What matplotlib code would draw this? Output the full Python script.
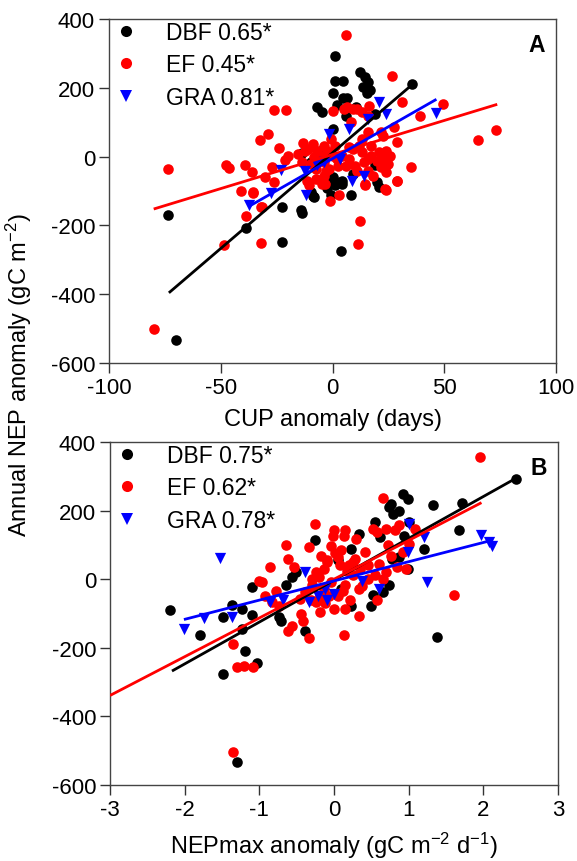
import matplotlib
matplotlib.use('Agg')
import matplotlib.pyplot as plt
import numpy as np
from matplotlib.lines import Line2D

plt.rcParams['font.family'] = ['Liberation Sans', 'DejaVu Sans']
plt.rcParams['mathtext.fontset'] = 'custom'
plt.rcParams['mathtext.rm'] = 'Liberation Sans'
plt.rcParams['mathtext.default'] = 'regular'
plt.rcParams['axes.unicode_minus'] = False

# ---------------- Panel A data (CUP anomaly, days vs annual NEP anomaly) ----------------
a_dbf_x = [-73.6, -69.8, -38.8, -22.4, -22.4, -14.2, -13.5, 1.0, 1.3, 4.6, 0.2, 4.8, 6.7, 2.1,
           10.4, 12.5, 14.7, 15.8, 13.8, 16.6, 15.5, -6.9, -4.8, 5.9, 0.2, 19.1, 35.6, 20.7,
           19.1, 8.4, 4.0, 0.2, 1.0, -1.5, 4.3, -9.7, -8.1, -13.8, -9.7, -5.6, 4.3, -0.7,
           9.2, 19.9, -8.6, -2.5, 3.6, 0.4]
a_dbf_y = [-170, -532, -208, -147, -247, -154, -165, 291, 221, 221, 185, 171, 170, 150,
           143, 247, 231, 216, 202, 195, 185, 143, 129, 117, 80, 124, 211, -87,
           -23, -113, -275, -65, -84, -55, -70, -104, -118, 11, -16, 17, -79, -113,
           -50, -75, -114, -90, -75, -60]

a_ef_x = [5.9, 26.5, 31.0, 39.3, 49.5, 64.9, 73.1, -26.2, -20.7, -32.3, -29.0, -24.0, -47.6,
          -46.4, -39.0, -36.2, -41.0, -35.6, -30.3, -27.0, -26.2, -38.8, -31.9, -31.9, -48.7,
          -73.4, -80.0, -21.2, -19.8, -13.3, -10.9, -9.7, -7.2, -11.4, -4.8, -1.0, -4.0, -5.6,
          -4.0, -0.7, 0.2, 5.1, 6.7, 10.9, 16.3, 13.3, 8.4, 13.3, 15.8, 17.4, 21.6, 22.4, 27.3,
          28.9, 20.7, 23.2, 24.9, 24.0, 21.6, 18.3, 15.8, 13.3, 9.2, 7.6, 10.0, 4.3, 29.0, 35.2,
          24.0, 14.5, 12.2, 11.2, 3.0, -15.5, -13.8, -8.1, -4.0, -1.5, 1.0, 2.6, -1.5, 5.9, 17.4,
          -3.4, 14.5, 23.5, 28.7, -35.4, -31.7,
          -12.5, -8.9, -6.9, -2.3, 0.2, 1.8, 7.6, 11.7, 14.2, 19.9, 24.0, 25.7, 22.4, 15.8, 10.9,
          -3.1, -7.2, -10.5, 15.8, 9.2]
a_ef_y = [354, 234, 160, 119, 153, 47, 78, 136, 136, 49, 66, 24, -23,
          -34, -23, -46, -101, -107, -58, -31, -75, -173, -147, -251, -257,
          -36, -501, -10, 3, 40, 22, -21, -36, -70, -79, -128, -55, 3,
          32, 51, 134, 139, 144, 139, 146, 129, 100, 51, 71, 32, 71, 61, 85,
          42, 13, -7, -21, -46, -31, -55, -7, 13, 22, -7, -26, 3, -70, -31,
          -97, -82, -186, -254, -113, 8, -16, -2, -16, 8, 32, -26, -36, -26, 3,
          -80, -80, -94, -70, -104, -147,
          17, 37, 17, 17, 3, -7, 27, 32, -16, -12, 17, 3, -26, -41, -41,
          -41, -65, -84, 119, 139]

a_gra_x = [-37.4, -27.6, -23.0, -12.0, -12.3, -4.0, -1.5, 3.5, 7.2, 8.6, 14.0, 20.6, 24.0,
           46.5, 16.0, -7.0]
a_gra_y = [-142, -107, -38, -113, -41, -16, 66, -7, 80, -70, -55, 160, 123,
           128, 109, -25]

# regression lines: slope, intercept, x-start, x-end
a_fit_slope = [5.56, 1.98, 3.71]
a_fit_icpt = [11, 6, -6]
a_fit_x0 = [-73.2, -80.0, -37.4]
a_fit_x1 = [37.0, 73.7, 46.5]
a_labels = ['DBF 0.65*', 'EF 0.45*', 'GRA 0.81*']

# ---------------- Panel B data (NEPmax anomaly vs annual NEP anomaly) ----------------
b_dbf_x = [-2.19, -1.80, -1.48, -1.48, -1.37, -1.30, -1.23, -1.19, -1.23, -1.10, -1.10, -1.03,
           -0.73, -0.71, -0.64, -0.56, -0.51, -0.39, -0.25, 0.23, 0.33, 0.49, 0.55, 0.62, 0.65,
           0.74, 0.74, 0.77, 0.79, 0.87, 0.92, 0.99, 1.00, 0.94, 0.87, 1.21, 1.33, 1.38, 1.68,
           1.72, 2.44, 0.23, 0.10, 0.99, 0.52, 0.78, 0.05]
b_dbf_y = [-89, -164, -276, -111, -75, -532, -87, -208, -145, -23, -104, -245,
           -111, -121, -18, 6, 20, -150, 113, 89, 132, -77, 168, 123, -38,
           -18, 210, 220, 190, 200, 249, 234, 168, 127, 64, 89, 215, -169, 142,
           223, 293, -77, -28, 30, -45, 60, 55]

b_ef_x = [1.95, 1.61, -1.35, -1.35, -1.30, -1.20, -1.08, 0.65, -0.25, -0.64, -0.34, -0.86,
          -0.96, -0.93, -0.78, -0.61, -0.54, -0.56, -0.61, -0.44, -0.41, -0.33, -0.24, -0.19,
          -0.07, 0.00, -0.02, 0.13, 0.15, 0.30, 0.34, 0.14, 0.15, 0.42, 0.52, 0.57, 0.69, 0.82,
          0.87, 0.57, 0.55, 0.69, 0.84, 0.97, -0.14, -0.24, -0.17, -0.09, 0.05, 0.10, 0.20, 0.25,
          -0.04, -0.14, -0.29, -0.39, 0.05, 0.15, 0.33, 0.45, 0.65, 0.77, 0.92, 1.09, 1.01, 0.45,
          0.25, -0.04, -0.19, 0.00, -0.31, -0.46, -0.73, -0.83, -1.00,
          -0.10, 0.08, 0.18, 0.28, 0.38, -0.20, -0.30, 0.12, 0.22, 0.02, -0.12, 0.35, 0.60, 0.72]
b_ef_y = [356, -46, -503, -189, -257, -252, -257, 236, 161, 100, 93, 35,
          -7, -48, -33, 59, 35, -135, -150, -101, -121, -172, -67, -96,
          -48, 142, 127, 127, 142, 118, -108, -164, -87, 79, 147, 137, 147, 142,
          157, -62, 11, 20, 35, 30, 30, 20, 69, 50, 64, 84, 40, 11,
          -9, -28, -18, -38, -48, -18, -28, 1, 1, 69, 79, 147, 103, 40,
          50, 98, -48, -87, -62, -57, -77, -67, -4,
          55, 40, 25, 60, -20, 5, 0, -35, -60, 75, -70, 30, 45, 100]

b_gra_x = [-2.01, -1.74, -1.53, -1.37, -0.86, -0.68, -0.39, -0.34, -0.22, -0.12, -0.09, 0.37,
           0.60, 0.99, 1.01, 1.21, 1.24, 1.97, 2.08, 2.12, 0.00]
b_gra_y = [-145, -114, 61, -109, -67, -62, 20, -67, -48, -28, -62, -4,
           -28, 79, 161, 123, -7, 129, 108, 98, -43]

b_fit_slope = [122, 113, 56]
b_fit_icpt = [-3, 0, -5]
b_fit_x0 = [-2.17, -3.0, -2.01]
b_fit_x1 = [2.44, 1.975, 2.12]
b_labels = ['DBF 0.75*', 'EF 0.62*', 'GRA 0.78*']

colors = ['#000000', '#ff0000', '#0000ff']
markers = ['o', 'o', 'v']

FS_TICK = 16
FS_LEG = 16.5
FS_LAB = 17
W, H = 577, 862
fig = plt.figure(figsize=(W / 100, H / 100), dpi=100)


def px_axes(l, t, r, b):
    return fig.add_axes([l / W, 1 - b / H, (r - l) / W, (b - t) / H])


def draw_panel(ax, xs, ys, slopes, icpts, x0s, x1s, labels, xlim, xticks, letter):
    for x, y, c, m in zip(xs, ys, colors, markers):
        ax.scatter(x, y, s=58 if m == 'o' else 66, c=c, marker=m, linewidths=0, zorder=2)
    for s, b, x0, x1, c in zip(slopes, icpts, x0s, x1s, colors):
        xx = np.array([x0, x1])
        ax.plot(xx, s * xx + b, color=c, lw=2.0, zorder=3, solid_capstyle='butt')
    ax.set_xlim(*xlim)
    ax.set_ylim(-600, 400)
    ax.set_xticks(xticks)
    ax.set_yticks([-600, -400, -200, 0, 200, 400])
    ax.tick_params(direction='out', length=7, width=1, labelsize=FS_TICK, pad=3,
                   top=False, right=False, colors='#333333', labelcolor='black')
    for sp in ax.spines.values():
        sp.set_linewidth(1.0)
        sp.set_color('#444444')
    handles = [Line2D([], [], ls='none', marker=m, color=c, markersize=8 if m == 'o' else 9,
                      markeredgewidth=0) for c, m in zip(colors, markers)]
    ax.legend(handles, labels, loc='upper left', bbox_to_anchor=(0, 1.012), frameon=False,
              fontsize=FS_LEG, handlelength=0.95, handletextpad=1.3, borderpad=0.25,
              borderaxespad=0, labelspacing=0.42)
    ax.text(0.975, 0.925, letter, transform=ax.transAxes, ha='right', va='center',
            fontsize=FS_LEG, fontweight='bold')


axA = px_axes(109, 20, 556, 364)
draw_panel(axA, [a_dbf_x, a_ef_x, a_gra_x], [a_dbf_y, a_ef_y, a_gra_y],
           a_fit_slope, a_fit_icpt, a_fit_x0, a_fit_x1, a_labels,
           (-100, 100), [-100, -50, 0, 50, 100], 'A')
axA.set_xlabel('CUP anomaly (days)', fontsize=FS_LAB, labelpad=7)

axB = px_axes(110, 443, 558, 786)
draw_panel(axB, [b_dbf_x, b_ef_x, b_gra_x], [b_dbf_y, b_ef_y, b_gra_y],
           b_fit_slope, b_fit_icpt, b_fit_x0, b_fit_x1, b_labels,
           (-3, 3), [-3, -2, -1, 0, 1, 2, 3], 'B')
axB.set_xlabel('NEPmax anomaly (gC m$^{-2}$ d$^{-1}$)', fontsize=FS_LAB, labelpad=7)

fig.text(19 / W, 1 - 375 / H, 'Annual NEP anomaly (gC m$^{-2}$)', rotation=90,
         ha='center', va='center', fontsize=FS_LAB)

fig.savefig('out.png', dpi=100)
